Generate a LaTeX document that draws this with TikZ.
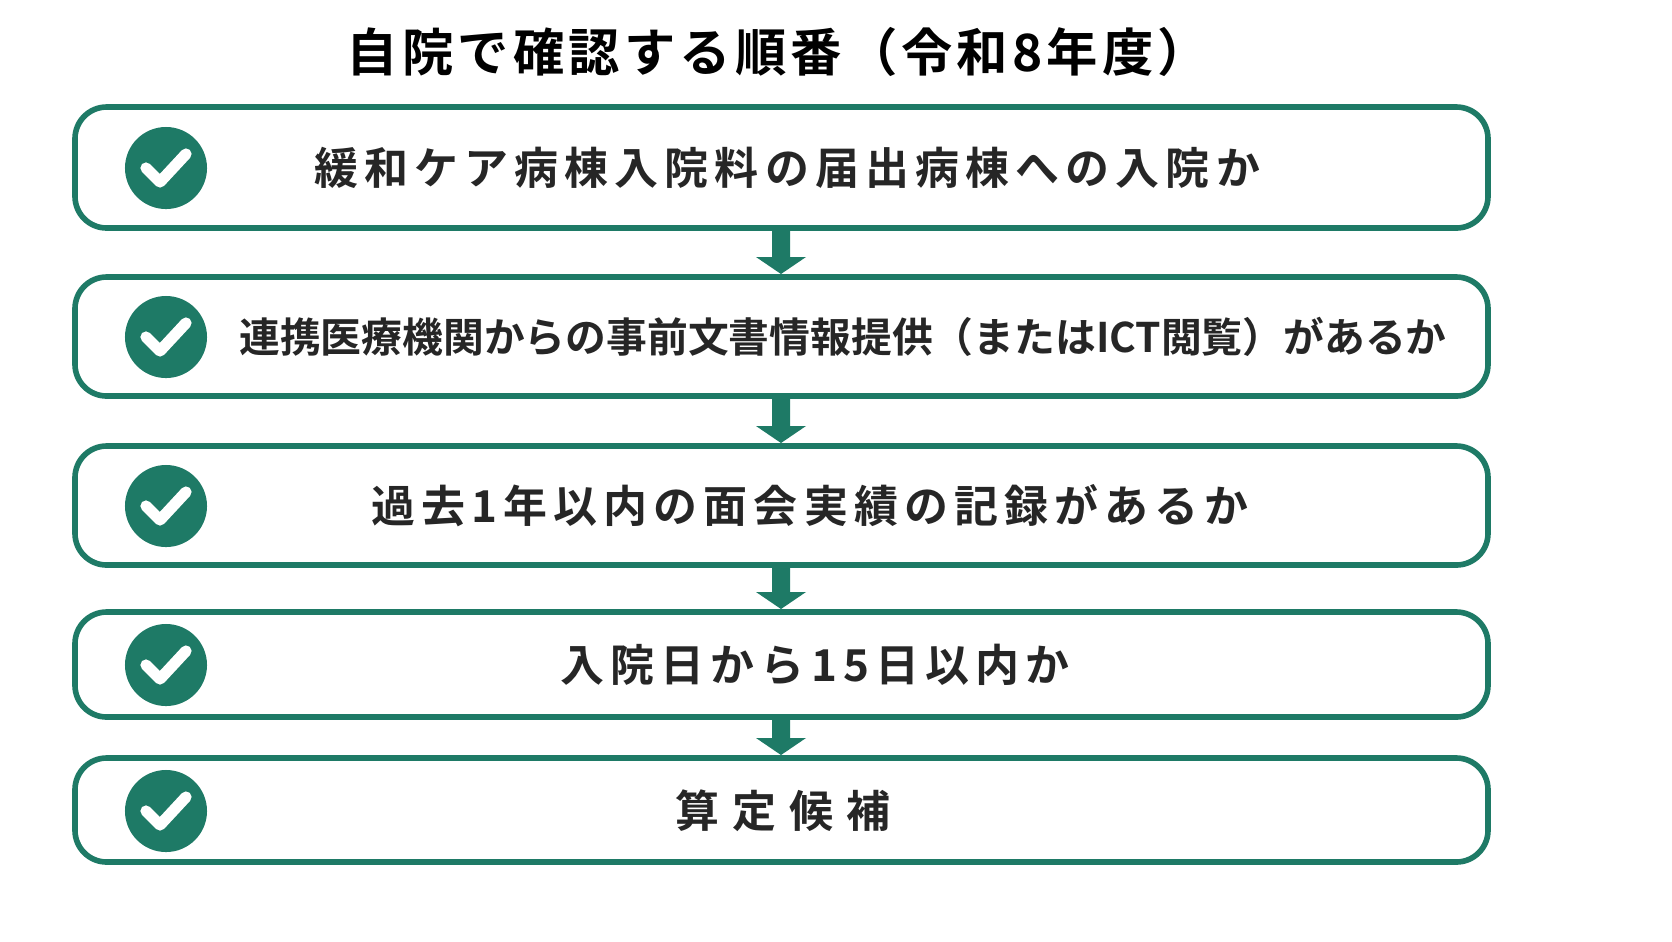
\documentclass[tikz,border=0pt]{standalone}
\usepackage{fontspec}
\setmainfont{Noto Sans CJK JP}[BoldFont={Noto Sans CJK JP Bold}]
\usetikzlibrary{positioning}
\definecolor{stepgreen}{HTML}{1E7A66}
\newcommand{\wide}{\addfontfeatures{LetterSpace=14}}
\newcommand{\narrow}{\fontsize{11.6}{14}\selectfont}
\begin{document}
\begin{tikzpicture}[x=0.01cm,y=-0.01cm,
  step_box/.style={draw=stepgreen,line width=1.6pt,rounded corners=9pt,fill=white},
  step_text/.style={font=\bfseries\fontsize{12.5}{14}\selectfont,text=black!85},
  check_style/.style={circle,fill=stepgreen,minimum size=0.82cm,inner sep=0pt},
  arrow_style/.style={fill=stepgreen,draw=none}]
  \node[font=\bfseries\fontsize{14.6}{17}\selectfont\addfontfeatures{LetterSpace=8}] (title) at (778,52) {自院で確認する順番（令和8年度）};
  % boxes
  \draw[step_box] (75,107) rectangle (1488,228);
  \draw[step_box] (75,277) rectangle (1488,396);
  \draw[step_box] (75,446) rectangle (1488,565);
  \draw[step_box] (75,612) rectangle (1488,717);
  \draw[step_box] (75,758) rectangle (1488,862);
  % checks and texts
  \foreach \y/\t/\x/\f in {168/緩和ケア病棟入院料の届出病棟への入院か/787/\wide,
                        337/連携医療機関からの事前文書情報提供（またはICT閲覧）があるか/843/\narrow,
                        506/過去1年以内の面会実績の記録があるか/810/\wide,
                        665/入院日から15日以内か/815/\wide,
                        811/算定候補/783/\addfontfeatures{LetterSpace=30}} {
    \node[check_style] (c\y) at (166,\y) {};
    \draw[white,line width=3.2pt,line cap=round,line join=round]
      ([shift={(-20,0)}]c\y.center) -- ([shift={(-6,14)}]c\y.center) -- ([shift={(20,-14)}]c\y.center);
    \node[step_text,font=\bfseries\fontsize{12.5}{14}\selectfont\f] (s\y) at (\x,\y) {\t};
  }
  % arrows
  \foreach \a/\b in {228/277,396/446,565/612,717/758} {
    \fill[arrow_style] (772,\a) -- (790,\a) -- (790,\b-20) -- (806,\b-20) -- (781,\b-3) -- (756,\b-20) -- (772,\b-20) -- cycle;
  }
  \pgfresetboundingbox
  \useasboundingbox (0,0) rectangle (1672,941);
\end{tikzpicture}
\end{document}
